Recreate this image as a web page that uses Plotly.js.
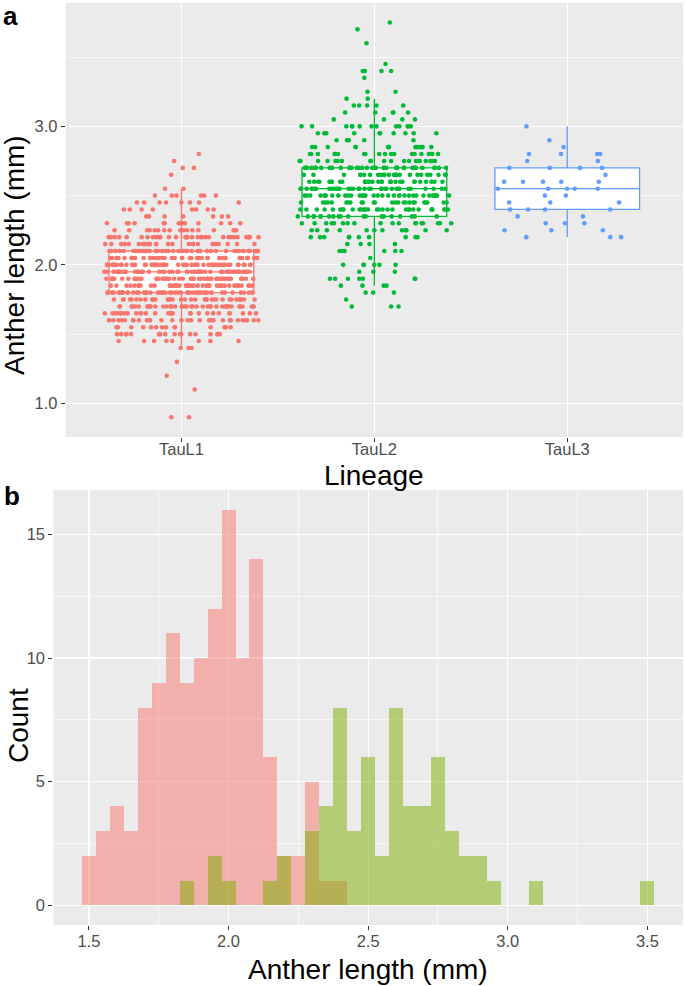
<!DOCTYPE html>
<html><head><meta charset="utf-8">
<script src="https://cdn.plot.ly/plotly-3.0.1.min.js"></script>
<style>html,body{margin:0;padding:0;background:#fff}</style>
</head><body><div id="chart" style="width:685px;height:986px"></div>
<script>
// ---------- Panel a data ----------
const lineages = ['TauL1', 'TauL2', 'TauL3'];
const lineageColors = ['#F8766D', '#00BA38', '#619CFF'];

// anther length values (mm) and number of measured anthers at each value
const tauL1Values = [0.90, 1.10, 1.20, 1.30, 1.40, 1.45, 1.50, 1.55, 1.60, 1.65, 1.70, 1.75, 1.80, 1.85, 1.90, 1.95, 2.00, 2.05, 2.10, 2.15, 2.20, 2.25, 2.30, 2.35, 2.40, 2.45, 2.50, 2.55, 2.65, 2.70, 2.75, 2.80];
const tauL1Counts = [2, 1, 1, 1, 3, 8, 18, 14, 30, 28, 38, 35, 50, 42, 48, 55, 60, 45, 48, 25, 32, 18, 14, 7, 8, 8, 6, 2, 1, 2, 1, 1];

const tauL2Values = [1.70, 1.75, 1.80, 1.85, 1.90, 1.95, 2.00, 2.05, 2.10, 2.15, 2.20, 2.25, 2.30, 2.35, 2.40, 2.45, 2.50, 2.55, 2.60, 2.65, 2.70, 2.75, 2.80, 2.85, 2.90, 2.95, 3.00, 3.05, 3.10, 3.15, 3.20, 3.25, 3.35, 3.40, 3.45, 3.60, 3.70, 3.75];
const tauL2Counts = [3, 1, 3, 4, 7, 3, 6, 1, 6, 4, 10, 12, 18, 20, 30, 25, 35, 35, 30, 25, 35, 20, 18, 14, 5, 10, 13, 4, 5, 5, 2, 2, 1, 4, 1, 1, 1, 1];

const tauL3Values = [2.20, 2.25, 2.30, 2.35, 2.40, 2.45, 2.50, 2.55, 2.60, 2.65, 2.70, 2.75, 2.80, 2.85, 2.90, 3.00];
const tauL3Counts = [3, 3, 3, 2, 4, 3, 2, 5, 5, 1, 4, 2, 4, 1, 1, 1];

// box statistics
const boxLower = [1.40, 1.85, 2.20];
const boxQ1 = [1.80, 2.35, 2.40];
const boxMedian = [1.95, 2.55, 2.55];
const boxQ3 = [2.10, 2.70, 2.70];
const boxUpper = [2.55, 3.20, 3.00];

// ---------- Panel b data (histogram, binwidth 0.05) ----------
const pinkBinCenters = [1.50, 1.55, 1.60, 1.65, 1.70, 1.75, 1.80, 1.85, 1.90, 1.95, 2.00, 2.05, 2.10, 2.15, 2.20, 2.25, 2.30, 2.35, 2.40];
const pinkBinCounts  = [2, 3, 4, 3, 8, 9, 11, 9, 10, 12, 16, 10, 14, 6, 2, 2, 5, 1, 1];
const greenBinCenters = [1.85, 1.95, 2.00, 2.15, 2.20, 2.30, 2.35, 2.40, 2.45, 2.50, 2.55, 2.60, 2.65, 2.70, 2.75, 2.80, 2.85, 2.90, 2.95, 3.10, 3.50];
const greenBinCounts  = [1, 2, 1, 1, 2, 3, 4, 8, 3, 6, 2, 8, 4, 4, 6, 3, 2, 2, 1, 1, 1];
const binWidth = 0.05;

// ---------- build ----------
function expand(values, counts) {
  const out = [];
  values.forEach((v, i) => { for (let k = 0; k < counts[i]; k++) out.push(v); });
  return out;
}
const pointSets = [
  expand(tauL1Values, tauL1Counts),
  expand(tauL2Values, tauL2Counts),
  expand(tauL3Values, tauL3Counts)
];
const jitterWidths = [0.8, 0.8, 0.86];

const traces = [];
lineages.forEach((lin, i) => {
  traces.push({
    type: 'box', xaxis: 'x', yaxis: 'y',
    x: [lin], q1: [boxQ1[i]], median: [boxMedian[i]], q3: [boxQ3[i]],
    lowerfence: [boxLower[i]], upperfence: [boxUpper[i]],
    boxpoints: false, width: 0.75, whiskerwidth: 0,
    fillcolor: '#FFFFFF', line: { color: lineageColors[i], width: 1.3 },
    showlegend: false, hoverinfo: 'skip'
  });
});
lineages.forEach((lin, i) => {
  traces.push({
    type: 'box', xaxis: 'x', yaxis: 'y',
    x0: lin, y: pointSets[i],
    boxpoints: 'all', jitter: 1, pointpos: 0, width: jitterWidths[i],
    fillcolor: 'rgba(0,0,0,0)', line: { color: 'rgba(0,0,0,0)', width: 0 },
    marker: { color: lineageColors[i], size: 4.6, line: { width: 0 } },
    showlegend: false, hoveron: 'points'
  });
});
traces.push({
  type: 'bar', xaxis: 'x2', yaxis: 'y2',
  x: pinkBinCenters, y: pinkBinCounts, width: binWidth,
  marker: { color: 'rgba(248,118,109,0.5)', line: { width: 0 } }, showlegend: false
});
traces.push({
  type: 'bar', xaxis: 'x2', yaxis: 'y2',
  x: greenBinCenters, y: greenBinCounts, width: binWidth,
  marker: { color: 'rgba(124,174,0,0.5)', line: { width: 0 } }, showlegend: false
});

const W = 685, H = 986;
const FONT = 'Liberation Sans, Arial, sans-serif';
const tickFont = { family: FONT, size: 16.5, color: '#4D4D4D' };
const titleFont = { family: FONT, size: 28, color: '#000000' };
const common = {
  showline: false, zeroline: false, ticks: 'outside', ticklen: 4, tickwidth: 1,
  tickcolor: '#333333', gridcolor: '#FFFFFF', gridwidth: 1.2, tickfont: tickFont,
  fixedrange: true
};

const layout = {
  width: W, height: H,
  margin: { l: 0, r: 0, t: 0, b: 0 },
  paper_bgcolor: '#FFFFFF', plot_bgcolor: '#EBEBEB',
  showlegend: false, boxmode: 'overlay', barmode: 'overlay', bargap: 0,
  xaxis: Object.assign({}, common, {
    domain: [65.7 / W, 683 / W], anchor: 'y', type: 'category',
    categoryorder: 'array', categoryarray: lineages, range: [-0.6, 2.6],
    ticklabelstandoff: -7
  }),
  yaxis: Object.assign({}, common, {
    domain: [1 - 437 / H, 1 - 2.7 / H], anchor: 'x',
    range: [0.7575, 3.8925], tick0: 0, dtick: 1, tickformat: '.1f',
    minor: { tick0: 0, dtick: 0.5, showgrid: true, gridcolor: '#FFFFFF', gridwidth: 0.6, ticks: '' }
  }),
  xaxis2: Object.assign({}, common, {
    domain: [53.3 / W, 683 / W], anchor: 'y2',
    range: [1.3725, 3.6275], tick0: 1.5, dtick: 0.5, tickformat: '.1f',
    ticklabelstandoff: -3,
    minor: { tick0: 1.5, dtick: 0.25, showgrid: true, gridcolor: '#FFFFFF', gridwidth: 0.6, ticks: '' }
  }),
  yaxis2: Object.assign({}, common, {
    domain: [1 - 925 / H, 1 - 490 / H], anchor: 'x2',
    range: [-0.8, 16.8], tick0: 0, dtick: 5,
    minor: { tick0: 0, dtick: 2.5, showgrid: true, gridcolor: '#FFFFFF', gridwidth: 0.6, ticks: '' }
  }),
  annotations: [
    { text: '<b>a</b>', x: 2 / W, y: 1, xref: 'paper', yref: 'paper', xanchor: 'left', yanchor: 'top', showarrow: false,
      borderpad: 0, font: { family: FONT, size: 26, color: '#000' } },
    { text: '<b>b</b>', x: 2 / W, y: 1 - 496 / H, xref: 'paper', yref: 'paper', xanchor: 'left', yanchor: 'middle', showarrow: false,
      font: { family: FONT, size: 26, color: '#000' } },
    { text: 'Anther length (mm)', x: 15 / W, y: 1 - 255 / H, xref: 'paper', yref: 'paper', textangle: -90,
      xanchor: 'center', yanchor: 'middle', showarrow: false, font: titleFont },
    { text: 'Lineage', x: (65.7 + 683) / 2 / W, y: 1 - 475 / H, xref: 'paper', yref: 'paper',
      xanchor: 'center', yanchor: 'middle', showarrow: false, font: titleFont },
    { text: 'Count', x: 18 / W, y: 1 - 726 / H, xref: 'paper', yref: 'paper', textangle: -90,
      xanchor: 'center', yanchor: 'middle', showarrow: false, font: titleFont },
    { text: 'Anther length (mm)', x: (53.3 + 683) / 2 / W, y: 1 - 969 / H, xref: 'paper', yref: 'paper',
      xanchor: 'center', yanchor: 'middle', showarrow: false, font: titleFont }
  ]
};

Plotly.newPlot('chart', traces, layout, { staticPlot: true, displayModeBar: false });
</script>
</body></html>
